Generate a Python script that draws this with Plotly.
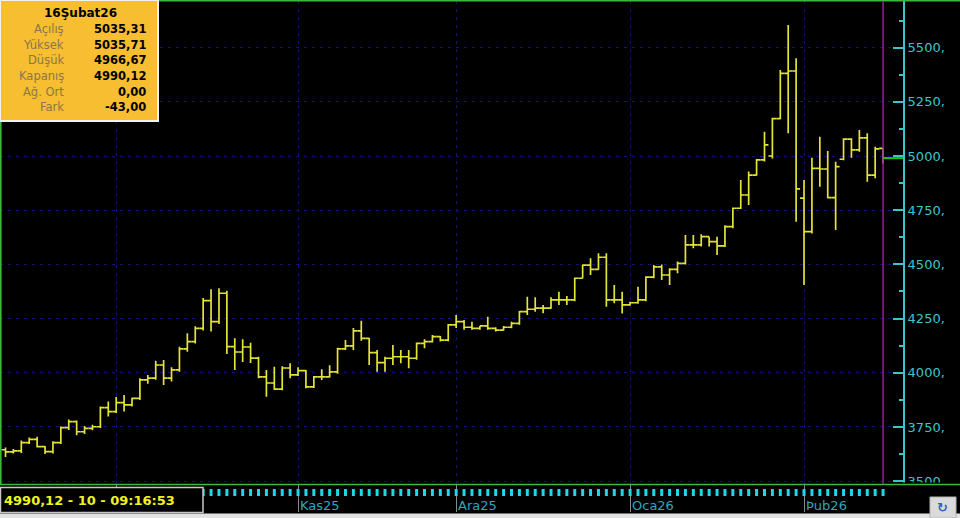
import pandas as pd
import plotly.graph_objects as go

# ---------------- data ----------------
holidays = ["2025-12-31"]
dates = [d.strftime("%Y-%m-%d") for d in pd.bdate_range("2025-09-11", "2026-02-16")
         if d.strftime("%Y-%m-%d") not in holidays]

opens = [3645, 3635, 3640, 3678, 3693, 3659, 3636, 3678, 3747, 3775,
         3728, 3744, 3751, 3839, 3821, 3862, 3852, 3882, 3967, 3975,
         4036, 3975, 4013, 4110, 4144, 4205, 4333, 4236, 4367, 4121,
         4096, 4119, 4068, 3981, 3953, 3925, 4022, 3990, 4010, 3935,
         3981, 3981, 4004, 4110, 4124, 4193, 4159, 4093, 4047, 4067,
         4074, 4074, 4067, 4136, 4144, 4167, 4151, 4221, 4236, 4210,
         4205, 4216, 4205, 4197, 4210, 4228, 4282, 4293, 4298, 4298,
         4336, 4336, 4336, 4436, 4497, 4477, 4533, 4336, 4336, 4313,
         4323, 4336, 4441, 4489, 4451, 4477, 4505, 4590, 4590, 4628,
         4605, 4585, 4674, 4759, 4820, 4912, 4982, 5000, 5172, 5381,
         5392, 4806, 4651, 4943, 4940, 4808, 4985, 5078, 5028, 5084,
         4912, 5035.31]
highs = [3655, 3648, 3688, 3702, 3705, 3662, 3684, 3752, 3785, 3780,
         3755, 3760, 3845, 3867, 3888, 3898, 3885, 3975, 3990, 4056,
         4059, 4025, 4120, 4182, 4215, 4345, 4385, 4390, 4378, 4159,
         4155, 4138, 4074, 4013, 4028, 4030, 4044, 4025, 4013, 3985,
         4016, 4035, 4115, 4151, 4207, 4240, 4161, 4105, 4074, 4128,
         4105, 4105, 4140, 4155, 4174, 4170, 4225, 4267, 4244, 4236,
         4216, 4259, 4210, 4216, 4236, 4285, 4351, 4348, 4313, 4348,
         4374, 4354, 4440, 4500, 4528, 4551, 4551, 4405, 4374, 4328,
         4397, 4445, 4497, 4500, 4482, 4513, 4636, 4636, 4639, 4628,
         4628, 4680, 4762, 4889, 4928, 4986, 5112, 5176, 5397, 5604,
         5451, 4889, 4992, 5089, 5023, 4974, 5082, 5082, 5120, 5105,
         5043, 5035.71]
lows = [3612, 3628, 3630, 3672, 3655, 3625, 3628, 3672, 3736, 3712,
        3718, 3735, 3745, 3798, 3815, 3821, 3845, 3875, 3950, 3968,
        3944, 3960, 4005, 4097, 4135, 4195, 4190, 4225, 4087, 4013,
        4050, 4045, 3975, 3889, 3921, 3920, 3975, 3985, 3929, 3930,
        3967, 3978, 3995, 4105, 4105, 4148, 4036, 4005, 4005, 4036,
        4044, 4021, 4060, 4113, 4140, 4144, 4145, 4207, 4198, 4198,
        4198, 4198, 4190, 4195, 4205, 4222, 4267, 4282, 4275, 4295,
        4313, 4313, 4330, 4436, 4451, 4475, 4305, 4321, 4274, 4310,
        4318, 4330, 4436, 4428, 4405, 4459, 4500, 4574, 4582, 4582,
        4543, 4580, 4667, 4755, 4774, 4910, 4975, 4989, 5170, 5105,
        4697, 4405, 4643, 4858, 4805, 4659, 4980, 4992, 5020, 4881,
        4897, 4966.67]
closes = [3635, 3640, 3678, 3693, 3659, 3636, 3678, 3747, 3775, 3728,
          3744, 3751, 3839, 3821, 3862, 3852, 3882, 3967, 3975, 4036,
          3975, 4013, 4110, 4144, 4205, 4333, 4236, 4367, 4121, 4096,
          4119, 4068, 3981, 3953, 3925, 4022, 3990, 4010, 3935, 3981,
          3981, 4004, 4110, 4124, 4193, 4159, 4093, 4047, 4067, 4074,
          4074, 4067, 4136, 4144, 4167, 4151, 4221, 4236, 4210, 4205,
          4216, 4205, 4197, 4210, 4228, 4282, 4293, 4298, 4298, 4336,
          4336, 4336, 4436, 4497, 4477, 4533, 4336, 4336, 4313, 4323,
          4336, 4441, 4489, 4451, 4477, 4505, 4590, 4590, 4628, 4605,
          4585, 4674, 4759, 4820, 4912, 4982, 5051, 5172, 5381, 5392,
          4848, 4651, 4943, 4940, 4808, 4951, 5078, 5028, 5084, 4912,
          5033.12, 4990.12]

y_tick_values = [3500, 3750, 4000, 4250, 4500, 4750, 5000, 5250, 5500]
y_tick_labels = ["3500,", "3750,", "4000,", "4250,", "4500,", "4750,", "5000,", "5250,", "5500,"]
y_minor_values = [3625, 3875, 4125, 4375, 4625, 4875, 5125, 5375, 5625]
# month labels on the time strip (October's label is hidden under the status box)
month_labels = ["", "Kas25", "Ara25", "Oca26", "Þub26"]

info_title = "16Şubat26"
info_labels = ["Açılış", "Yüksek", "Düşük", "Kapanış", "Ağ. Ort", "Fark"]
avg_value = 0.00
status_count = "10"
status_time = "09:16:53"

assert len(dates) == len(opens) == len(highs) == len(lows) == len(closes)

# ---------------- helpers ----------------
def tr(v):
    return f"{v:.2f}".replace(".", ",")

n = len(dates)
month_starts = []
seen = set()
for d in dates:
    if d[:7] not in seen:
        seen.add(d[:7])
        month_starts.append(d)
month_starts = month_starts[1:]  # Oct, Nov, Dec, Jan, Feb

W, H = 960, 518
ML, MR, MT, MB = 0, 57, 1, 6
PW, PH = W - ML - MR, H - MT - MB


def px(x):
    return (x - ML) / PW


def py(y):
    return (H - MB - y) / PH


SPLIT = py(484)
XR = [-0.696, 113.52]
YR = [3487, 5715]

YEL = "#e3e339"
CYAN = "#3cc4cc"
NAVY = "#12127a"
FONT = "DejaVu Sans"

fig = go.Figure()
fig.add_trace(go.Ohlc(
    x=dates, open=opens, high=highs, low=lows, close=closes,
    increasing=dict(line=dict(color=YEL, width=1.7)),
    decreasing=dict(line=dict(color=YEL, width=1.7)),
    tickwidth=0.5, xaxis="x", yaxis="y", hoverinfo="skip", showlegend=False,
))
fig.add_trace(go.Bar(
    x=dates, y=[7] * n, base=16, width=0.38,
    marker=dict(color="#22d6e6", line=dict(width=0)),
    xaxis="x2", yaxis="y2", hoverinfo="skip", showlegend=False,
))

fig.update_layout(
    width=W, height=H,
    margin=dict(l=ML, r=MR, t=MT, b=MB, pad=0),
    paper_bgcolor="black", plot_bgcolor="black",
    hovermode=False, showlegend=False,
    font=dict(family=FONT),
    xaxis=dict(
        domain=[0, 1], anchor="y", type="category", range=XR,
        rangeslider=dict(visible=False),
        tickvals=month_starts, showticklabels=False, ticks="",
        showgrid=True, gridcolor=NAVY, griddash="3px,5px", gridwidth=1,
        showline=False, zeroline=False, fixedrange=True,
    ),
    xaxis2=dict(
        domain=[0, 1], anchor="y2", type="category", range=XR, matches="x",
        tickvals=month_starts, showticklabels=False, ticks="",
        showgrid=True, gridcolor="#8a8a8a", gridwidth=1,
        showline=False, zeroline=False,
    ),
    yaxis=dict(
        domain=[SPLIT, 1], anchor="x", side="right", range=YR,
        tickvals=y_tick_values, ticktext=y_tick_labels,
        ticks="inside", ticklen=10, tickwidth=2, tickcolor=CYAN,
        tickfont=dict(family=FONT, size=13, color=CYAN),
        minor=dict(tickvals=y_minor_values, ticks="inside", ticklen=4,
                   tickwidth=2, tickcolor=CYAN, showgrid=False),
        showline=True, linecolor=CYAN, linewidth=2,
        showgrid=True, gridcolor=NAVY, griddash="3px,5px", gridwidth=1,
        zeroline=False,
    ),
    yaxis2=dict(domain=[0, SPLIT], anchor="x2", range=[0, 28], visible=False),
)

shapes = []
# cover area under plot on the right (clips the 3500 label like the original)
shapes.append(dict(type="rect", xref="paper", yref="paper", layer="above",
                   x0=px(903), x1=px(961), y0=py(513), y1=py(482.5),
                   fillcolor="black", line=dict(width=0)))
# green frame lines
shapes.append(dict(type="line", xref="paper", yref="paper", layer="above",
                   x0=px(0), x1=px(960), y0=py(0.8), y1=py(0.8),
                   line=dict(color="#3cb83c", width=1.6)))
shapes.append(dict(type="line", xref="paper", yref="paper", layer="above",
                   x0=px(0), x1=px(960), y0=py(484.5), y1=py(484.5),
                   line=dict(color="#3cb83c", width=1.6)))
shapes.append(dict(type="line", xref="paper", yref="paper", layer="above",
                   x0=px(0.8), x1=px(0.8), y0=py(484.5), y1=py(0),
                   line=dict(color="#3cb83c", width=1.6)))
# current bar marker (purple) and last price line (green)
shapes.append(dict(type="line", xref="x", yref="paper", layer="above",
                   x0=n - 1, x1=n - 1, y0=SPLIT, y1=1,
                   line=dict(color="#9a1f9a", width=1.5)))
shapes.append(dict(type="line", xref="x", yref="y", layer="above",
                   x0=n - 1, x1=XR[1], y0=closes[-1], y1=closes[-1],
                   line=dict(color="#22c022", width=2)))
# info box
shapes.append(dict(type="rect", xref="paper", yref="paper", layer="above",
                   x0=px(0), x1=px(158), y0=py(121), y1=py(0),
                   fillcolor="#f6be30", line=dict(color="#f2f2f2", width=2)))
# status box bottom-left
shapes.append(dict(type="rect", xref="paper", yref="paper", layer="above",
                   x0=px(0.5), x1=px(203), y0=py(512.5), y1=py(487.5),
                   fillcolor="black", line=dict(color="#c8c8c8", width=1.5)))
# window chrome strip at the very bottom
shapes.append(dict(type="rect", xref="paper", yref="paper", layer="above",
                   x0=px(0), x1=px(961), y0=py(519), y1=py(513.5),
                   fillcolor="#e2e2e2", line=dict(width=0)))
shapes.append(dict(type="rect", xref="paper", yref="paper", layer="above",
                   x0=px(930), x1=px(956), y0=py(518), y1=py(497),
                   fillcolor="#dadada", line=dict(color="#b4b4b4", width=1)))
fig.update_layout(shapes=shapes)

ann = []
ann.append(dict(xref="paper", yref="paper", x=px(80), y=py(13), text=f"<b>{info_title}</b>",
                showarrow=False, xanchor="center", yanchor="middle",
                font=dict(family=FONT, size=12, color="black")))
last_vals = [opens[-1], highs[-1], lows[-1], closes[-1], avg_value, closes[-1] - closes[-2]]
row_y = [29, 44.5, 60, 76, 92, 107]
for lab, val, yy in zip(info_labels, last_vals, row_y):
    ann.append(dict(xref="paper", yref="paper", x=px(66), y=py(yy), text=lab,
                    showarrow=False, xanchor="right", yanchor="middle",
                    font=dict(family=FONT, size=11.5, color="#8a7748")))
    ann.append(dict(xref="paper", yref="paper", x=px(148), y=py(yy), text=f"<b>{tr(val)}</b>",
                    showarrow=False, xanchor="right", yanchor="middle",
                    font=dict(family=FONT, size=11.5, color="black")))
# month labels on the time strip
for m, lab in zip(month_starts, month_labels):
    if lab:
        ann.append(dict(xref="x2", yref="paper", x=m, y=py(505.5), text=lab,
                        showarrow=False, xanchor="left", yanchor="middle", xshift=0,
                        font=dict(family=FONT, size=13, color="#2ea6bf")))
ann.append(dict(xref="paper", yref="paper", x=px(2), y=py(500.5),
                text=f"<b>{tr(closes[-1])} - {status_count} - {status_time}</b>",
                showarrow=False, xanchor="left", yanchor="middle",
                font=dict(family=FONT, size=13, color="#f2f222")))
ann.append(dict(xref="paper", yref="paper", x=px(943), y=py(507), text="<b>↻</b>",
                showarrow=False, xanchor="center", yanchor="middle",
                font=dict(family=FONT, size=13, color="#2a5fd0")))
fig.update_layout(annotations=ann)

fig.write_html("out.html", config={"displayModeBar": False},
               post_script="document.body.style.margin='0px';")
